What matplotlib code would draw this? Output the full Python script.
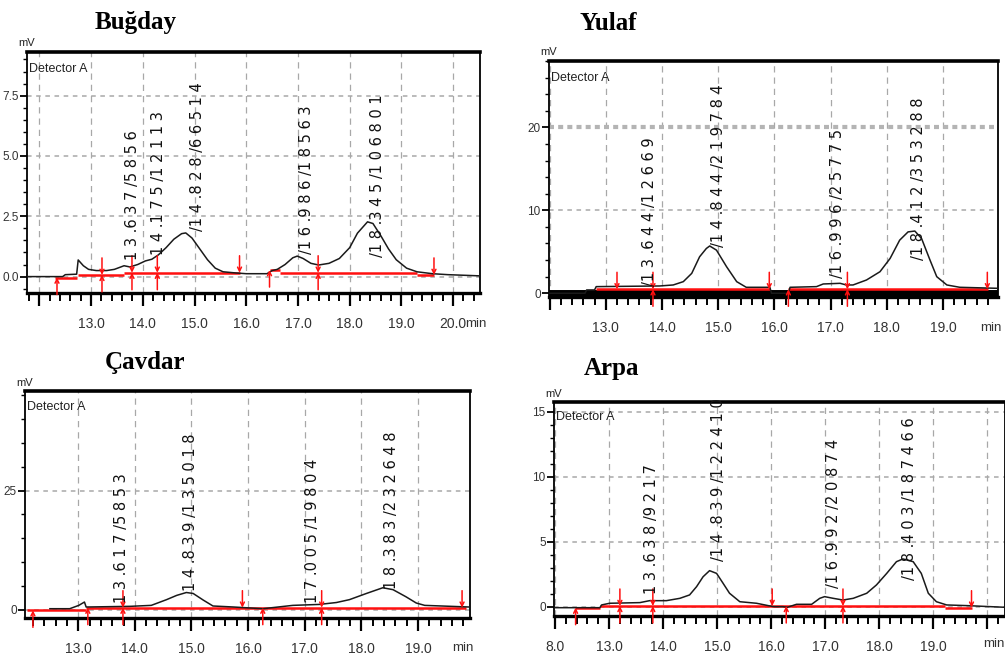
import matplotlib
matplotlib.use("Agg")
import matplotlib.pyplot as plt
from matplotlib.ticker import MultipleLocator, FixedLocator, FixedFormatter

# ---------------- DATA ----------------
# Buğday
bugday_t = [11.76, 12.45, 12.50, 12.72, 12.75, 12.85, 12.95, 13.10, 13.30, 13.45, 13.637, 13.75, 13.90,
            14.05, 14.175, 14.30, 14.45, 14.60, 14.75, 14.83, 14.95, 15.10, 15.25, 15.40, 15.55, 15.80,
            16.00, 16.40, 16.50, 16.60, 16.75, 16.90, 16.986, 17.10, 17.25, 17.40, 17.60, 17.80, 18.00,
            18.15, 18.345, 18.45, 18.60, 18.75, 18.90, 19.10, 19.30, 19.60, 19.90, 20.52]
bugday_mv = [0.0, 0.0, 0.08, 0.10, 0.69, 0.45, 0.30, 0.25, 0.25, 0.30, 0.45, 0.40, 0.50,
             0.65, 0.72, 0.90, 1.20, 1.55, 1.78, 1.81, 1.60, 1.15, 0.70, 0.35, 0.20, 0.15,
             0.12, 0.12, 0.25, 0.30, 0.50, 0.78, 0.85, 0.75, 0.55, 0.48, 0.55, 0.75, 1.20,
             1.80, 2.27, 2.20, 1.70, 1.15, 0.70, 0.35, 0.20, 0.12, 0.08, 0.03]
bugday_red = [(12.30, 12.72, -0.04), (12.75, 13.63, 0.07), (13.63, 15.88, 0.16),
              (16.46, 16.66, 0.27), (16.66, 19.30, 0.16), (19.30, 19.63, 0.07)]
bugday_arrows = [(12.34, "u", -0.04), (13.21, "b", 0.07), (13.79, "b", 0.16), (14.28, "b", 0.16),
                 (15.87, "d", 0.16), (16.45, "u", 0.27), (17.39, "b", 0.16), (19.63, "d", 0.07)]
bugday_labels = ["13.637/5856", "14.175/12113", "/14.828/66514", "/16.986/18563", "/18.345/106801"]
bugday_label_x = [13.80, 14.30, 15.05, 17.17, 18.53]
bugday_label_y = [0.70, 0.90, 1.90, 0.95, 0.80]

# Yulaf
yulaf_t = [11.99, 12.63, 12.66, 12.80, 12.83, 13.96, 14.20, 14.38, 14.53, 14.67, 14.79, 14.85, 14.97,
           15.15, 15.33, 15.50, 15.92, 15.95, 16.25, 16.28, 16.75, 16.87, 17.17, 17.28, 17.40, 17.64,
           17.88, 18.06, 18.23, 18.38, 18.50, 18.62, 18.77, 18.89, 19.07, 19.30, 19.96]
yulaf_mv = [0.0, 0.0, 0.4, 0.4, 0.8, 0.88, 1.0, 1.4, 2.4, 4.4, 5.4, 5.7, 5.2,
            3.2, 1.4, 0.72, 0.72, 0.0, 0.0, 0.72, 0.8, 1.12, 1.2, 1.0, 1.0, 1.6,
            2.6, 4.2, 6.4, 7.4, 7.5, 6.6, 4.0, 2.0, 1.0, 0.72, 0.6]
yulaf_red = [(12.83, 15.92, 0.48), (16.25, 19.81, 0.48)]
yulaf_arrows = [(13.20, "d", 0.48), (13.84, "b", 0.48), (15.91, "d", 0.48),
                (16.25, "u", 0.48), (17.30, "b", 0.48), (19.79, "d", 0.48)]
yulaf_labels = ["/13.644/12669", "/14.844/219784", "/16.996/25775", "/18.412/353288"]
yulaf_label_x = [13.78, 15.00, 17.12, 18.56]
yulaf_label_y = [0.9, 5.6, 1.8, 4.0]

# Çavdar
cavdar_t = [12.50, 12.85, 13.01, 13.11, 13.14, 13.17, 13.92, 14.29, 14.56, 14.74, 14.91, 15.03, 15.21,
            15.38, 15.74, 16.26, 16.79, 17.26, 17.56, 17.79, 18.09, 18.38, 18.56, 18.79, 18.97, 19.12, 19.90]
cavdar_mv = [0.2, 0.2, 0.9, 1.6, 0.56, 0.56, 0.7, 0.9, 2.1, 3.0, 3.6, 3.4, 2.0,
             0.77, 0.56, 0.2, 0.9, 1.1, 1.5, 2.1, 3.4, 4.6, 4.2, 2.7, 1.4, 0.9, 0.56]
cavdar_red = [(12.10, 13.14, -0.14), (13.14, 19.85, 0.42)]
cavdar_arrows = [(12.20, "u", -0.14), (13.17, "u", 0.42), (13.79, "b", 0.42), (15.90, "d", 0.42),
                 (16.26, "u", 0.42), (17.30, "b", 0.42), (19.78, "d", 0.42)]
cavdar_labels = ["13.617/5853", "14.839/135018", "17.005/19804", "18.383/232648"]
cavdar_label_x = [13.77, 14.98, 17.13, 18.53]
cavdar_label_y = [1.3, 4.0, 1.3, 4.4]

# Arpa
arpa_t = [11.99, 12.83, 12.86, 13.01, 13.57, 13.75, 14.06, 14.31, 14.49, 14.62, 14.74, 14.86, 14.99,
          15.11, 15.23, 15.42, 15.73, 16.04, 16.22, 16.30, 16.47, 16.75, 16.90, 16.99, 17.15, 17.33,
          17.52, 17.77, 17.95, 18.14, 18.32, 18.44, 18.63, 18.78, 18.91, 19.06, 19.25, 19.62, 20.33]
arpa_mv = [-0.08, -0.08, 0.13, 0.26, 0.31, 0.46, 0.46, 0.64, 0.90, 1.54, 2.30, 2.77, 2.56,
           1.80, 1.03, 0.38, 0.26, 0.0, 0.0, -0.05, 0.18, 0.18, 0.64, 0.77, 0.64, 0.51,
           0.64, 1.03, 1.67, 2.56, 3.46, 3.67, 3.46, 2.56, 1.03, 0.38, 0.13, 0.08, -0.05]
arpa_red = [(12.36, 12.83, -0.08), (12.83, 19.22, 0.05), (19.22, 19.71, -0.08)]
arpa_arrows = [(12.38, "u", -0.08), (13.20, "b", 0.05), (13.81, "b", 0.05), (16.02, "d", 0.05),
               (16.28, "u", 0.05), (17.33, "b", 0.05), (19.71, "d", -0.08)]
arpa_labels = ["13.638/9217", "/14.839/122410", "/16.992/20874", "/18.403/187466"]
arpa_label_x = [13.78, 15.02, 17.15, 18.56]
arpa_label_y = [1.0, 3.5, 1.4, 2.05]

titles = ["Buğday", "Yulaf", "Çavdar", "Arpa"]

# ---------------- STYLE / LAYOUT ----------------
W, H = 1005, 666
NARROW = ["Liberation Sans Narrow", "Liberation Sans", "DejaVu Sans"]
GRID_C = "#a8a8a8"

fig = plt.figure(figsize=(W / 100, H / 100), dpi=100)
fig.patch.set_facecolor("white")


def spaced(s):
    out = []
    for i, c in enumerate(s):
        out.append(c)
        if i < len(s) - 1 and c not in "./":
            out.append(" ")
    return "".join(out)


def panel(box, xlim, ylim, yticks, yticklabels, yminor, xticks, xticklabels, min_x, min_ha,
          t, mv, red, arrows, labels, lx, ly, title, title_xy, heavy_grid=None, zero_band=False):
    l, tp, r, b = box
    ax = fig.add_axes([l / W, 1 - b / H, (r - l) / W, (b - tp) / H])
    ax.set_xlim(*xlim)
    ax.set_ylim(*ylim)
    # grid
    for gx in range(12, 21):
        if xlim[0] < gx < xlim[1]:
            ax.axvline(gx, color=GRID_C, lw=0.9, ls=(0, (5, 4)), zorder=1)
    for gy in yticks:
        if heavy_grid is not None and gy == heavy_grid:
            ax.axhline(gy, color="#b4b4b4", lw=3.0, ls=(0, (1.2, 1.0)), zorder=1)
        else:
            ax.axhline(gy, color=GRID_C, lw=1.1, ls=(0, (3, 3)), zorder=1)
    if zero_band:
        ax.axhline(0, color="black", lw=5, zorder=2)
    # red integration baseline
    for (t0, t1, y) in red:
        ax.plot([t0, t1], [y, y], color="#ff1010", lw=1.8, zorder=3, solid_capstyle="butt")
    # trace
    ax.plot(t, mv, color="#1a1a1a", lw=1.1, zorder=4)
    # arrows
    for (ta, kind, ya) in arrows:
        if kind in ("d", "b"):
            ax.annotate("", xy=(ta, ya), xytext=(0, 17), textcoords="offset pixels",
                        arrowprops=dict(arrowstyle="->", color="#ff1010", lw=1.1,
                                        mutation_scale=7, shrinkA=0, shrinkB=0),
                        annotation_clip=False, zorder=5)
        if kind in ("u", "b"):
            ax.annotate("", xy=(ta, ya), xytext=(0, -17), textcoords="offset pixels",
                        arrowprops=dict(arrowstyle="->", color="#ff1010", lw=1.1,
                                        mutation_scale=7, shrinkA=0, shrinkB=0),
                        annotation_clip=False, zorder=5)
    # peak labels
    for s, x, y in zip(labels, lx, ly):
        ax.text(x, y, spaced(s), rotation=90, ha="center", va="bottom",
                fontsize=10.5, family="DejaVu Sans", color="#111111", zorder=6)
    # ticks
    ax.xaxis.set_major_locator(FixedLocator(xticks))
    ax.xaxis.set_major_formatter(FixedFormatter(xticklabels))
    ax.xaxis.set_minor_locator(MultipleLocator(0.2))
    ax.yaxis.set_major_locator(FixedLocator(yticks))
    ax.yaxis.set_major_formatter(FixedFormatter(yticklabels))
    ax.yaxis.set_minor_locator(MultipleLocator(yminor))
    ax.tick_params(axis="x", which="major", direction="out", length=9, width=1.6, pad=8,
                   labelsize=10, labelcolor="#333333")
    ax.tick_params(axis="x", which="minor", direction="out", length=6, width=1.4)
    ax.tick_params(axis="y", which="major", direction="out", length=5, width=1.3, pad=1,
                   labelsize=8.5, labelcolor="#333333")
    ax.tick_params(axis="y", which="minor", direction="out", length=3, width=1.0)
    for lab in ax.get_xticklabels() + ax.get_yticklabels():
        lab.set_family(NARROW)
    ax.text(min_x, -0.13, "min", transform=ax.get_xaxis_transform(), ha=min_ha, va="center",
            fontsize=9.5, family=NARROW, color="#333333")
    # spines
    ax.spines["top"].set_linewidth(2.6)
    ax.spines["bottom"].set_linewidth(2.4)
    ax.spines["left"].set_linewidth(1.3)
    ax.spines["right"].set_linewidth(1.3)
    ax.text(0.004, 0.93, "Detector A", transform=ax.transAxes, ha="left", va="center",
            fontsize=9, family=NARROW, color="#222222")
    ax.text(0.0, 1.015, "mV", transform=ax.transAxes, ha="center", va="bottom",
            fontsize=8, family=NARROW, color="#222222")
    fig.text(title_xy[0] / W, 1 - title_xy[1] / H, title, ha="center", va="center",
             fontsize=18, fontweight="bold", family=["Liberation Serif", "DejaVu Serif"])
    return ax


panel((27, 52, 480, 293), (11.76, 20.52), (-0.68, 9.31), [0.0, 2.5, 5.0, 7.5],
      ["0.0", "2.5", "5.0", "7.5"], 0.5, list(range(12, 21)),
      ["", "13.0", "14.0", "15.0", "16.0", "17.0", "18.0", "19.0", "20.0"], 20.24, "left",
      bugday_t, bugday_mv, bugday_red, bugday_arrows, bugday_labels, bugday_label_x,
      bugday_label_y, titles[0], (136, 22))

panel((549, 61, 998, 297), (11.99, 19.98), (-0.45, 28.0), [0, 10, 20],
      ["0", "10", "20"], 2, list(range(12, 20)),
      ["", "13.0", "14.0", "15.0", "16.0", "17.0", "18.0", "19.0"], 19.85, "center",
      yulaf_t, yulaf_mv, yulaf_red, yulaf_arrows, yulaf_labels, yulaf_label_x,
      yulaf_label_y, titles[1], (608, 24), heavy_grid=20, zero_band=True)

panel((25, 391, 470, 618), (12.06, 19.92), (-1.75, 45.9), [0, 25],
      ["0", "25"], 5, list(range(13, 20)),
      ["13.0", "14.0", "15.0", "16.0", "17.0", "18.0", "19.0"], 19.79, "center",
      cavdar_t, cavdar_mv, cavdar_red, cavdar_arrows, cavdar_labels, cavdar_label_x,
      cavdar_label_y, titles[2], (145, 362))

panel((554, 402, 1005, 616), (11.98, 20.33), (-0.72, 15.75), [0, 5, 10, 15],
      ["0", "5", "10", "15"], 1, list(range(12, 21)),
      ["8.0", "13.0", "14.0", "15.0", "16.0", "17.0", "18.0", "19.0", ""], 20.12, "center",
      arpa_t, arpa_mv, arpa_red, arpa_arrows, arpa_labels, arpa_label_x,
      arpa_label_y, titles[3], (612, 368))

fig.savefig("out.png", dpi=100, facecolor="white")
